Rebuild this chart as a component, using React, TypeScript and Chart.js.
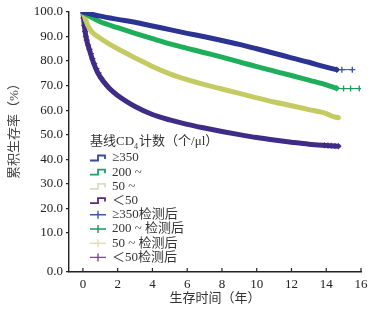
import React, { useEffect, useRef } from "react";
import { Chart, registerables } from "chart.js";
Chart.register(...registerables);

// ---- data ----
const groupLabels = ["≥350", "200 ~", "50 ~", "＜50"];
const afterLabels = ["≥350检测后", "200 ~ 检测后", "50 ~ 检测后", "＜50检测后"];

const tBlue = [0, 0.5, 1, 2, 3, 4, 5, 6, 7, 8, 9, 10, 11, 12, 13, 14, 14.6];
const sBlue = [100, 99.1, 98.3, 97.0, 95.8, 94.3, 92.8, 91.3, 89.9, 88.4, 86.8, 85.0, 83.2, 81.3, 79.5, 77.5, 76.5];

const tGreen = [0, 0.5, 1, 2, 3, 4, 5, 6, 7, 8, 9, 10, 11, 12, 13, 14, 14.6];
const sGreen = [100, 97.8, 96.0, 93.6, 91.3, 89.1, 87.0, 85.2, 83.4, 81.6, 79.7, 77.7, 75.9, 74.1, 72.2, 70.3, 68.9];

const tYellow = [0, 0.25, 0.5, 1, 1.5, 2, 3, 4, 5, 6, 7, 8, 9, 10, 11, 12, 13, 14, 14.3, 14.7];
const sYellow = [100, 95.0, 92.0, 89.3, 87.0, 85.0, 81.3, 77.8, 74.8, 72.4, 70.4, 68.6, 66.8, 65.0, 63.3, 61.8, 60.2, 58.6, 57.6, 56.9];

const tPurple = [0, 0.1, 0.2, 0.4, 0.6, 0.8, 1, 1.5, 2, 2.5, 3, 4, 5, 6, 7, 8, 9, 10, 11, 12, 13, 14, 14.7];
const sPurple = [100, 93.5, 89.0, 84.0, 79.5, 76.0, 73.5, 69.0, 66.0, 63.6, 61.5, 58.2, 56.0, 54.2, 52.7, 51.3, 50.0, 48.8, 47.8, 46.9, 46.1, 45.6, 45.3];

// censored marks ("检测后")
const cBlueT = [14.6, 14.9, 15.5];
const cBlueS = [76.5, 76.5, 76.5];
const cGreenT = [14.6, 15.0, 15.4, 15.9];
const cGreenS = [68.9, 68.8, 68.8, 68.8];
const cYellowT = [0.05, 0.15];
const cYellowS = [98.0, 96.5];
const cPurpleT = [0.03, 0.08, 0.12, 0.17, 0.22, 0.3, 0.38, 0.46, 0.55, 0.65, 0.78, 0.9, 1.05, 1.2, 1.4, 13.9, 14.1, 14.3, 14.5, 14.7];
const cPurpleS = [97.5, 94.5, 92.0, 90.0, 88.5, 86.5, 84.8, 83.0, 81.0, 79.0, 77.0, 75.2, 73.0, 71.5, 69.8, 45.7, 45.6, 45.5, 45.4, 45.3];

const xTicks = [0, 2, 4, 6, 8, 10, 12, 14, 16];
const yTicks = [-6, 10, 20, 30, 40, 50, 60, 70, 80, 90, 100];

const lineColors = ["#2b3492", "#1fae5a", "#c3cb62", "#3f2c86"];
const markColors = ["#3a4fa8", "#1a9a60", "#c9cf86", "#6f3a8f"];
const markLine = [true, true, false, false];
const legendLineColors = ["#3a4a98", "#1e9e6a", "#d8dcc4", "#5a2a7a"];
const legendCrossColors = ["#3e5ab0", "#1a9a5a", "#e0e0b8", "#7a4a8a"];

const FONT = "'Liberation Serif', 'Noto Sans CJK SC', serif";

const toPts = (t: number[], s: number[]) => t.map((x, i) => ({ x, y: s[i] }));

const decorPlugin = {
  id: "decor",
  afterDraw(chart: any) {
    const ctx = chart.ctx;
    const ca = chart.chartArea;
    const xs = chart.scales.x;
    ctx.save();
    // inward x ticks
    ctx.strokeStyle = "#222";
    ctx.lineWidth = 1.2;
    xTicks.forEach((v) => {
      const px = xs.getPixelForValue(v);
      ctx.beginPath();
      ctx.moveTo(px, ca.bottom);
      ctx.lineTo(px, ca.bottom - 4);
      ctx.stroke();
    });
    // y title
    ctx.save();
    ctx.translate(15, ca.top + 116);
    ctx.rotate(-Math.PI / 2);
    ctx.fillStyle = "#444";
    ctx.font = `13px ${FONT}`;
    ctx.textAlign = "center";
    ctx.textBaseline = "middle";
    ctx.fillText("累积生存率（%）", 0, 0);
    ctx.restore();
    // legend
    const lx = ca.left + 21;
    const ty = ca.top + 130;
    ctx.fillStyle = "#333";
    ctx.textBaseline = "middle";
    ctx.textAlign = "left";
    ctx.font = `13px ${FONT}`;
    let x = lx;
    const p1 = "基线CD";
    ctx.fillText(p1, x, ty);
    x += ctx.measureText(p1).width;
    ctx.font = `8px ${FONT}`;
    ctx.fillText("4", x, ty + 5);
    x += ctx.measureText("4").width + 1;
    ctx.font = `13px ${FONT}`;
    ctx.fillText("计数（个/μl）", x, ty);

    const step = 14.2;
    const y0 = ty + 16;
    groupLabels.forEach((lab, i) => {
      const y = y0 + i * step;
      ctx.strokeStyle = legendLineColors[i];
      ctx.lineWidth = 1.8;
      ctx.beginPath();
      ctx.moveTo(lx, y + 2.5);
      ctx.lineTo(lx + 8, y + 2.5);
      ctx.lineTo(lx + 8, y - 2.5);
      ctx.lineTo(lx + 15, y - 2.5);
      ctx.lineTo(lx + 15, y + 1);
      ctx.stroke();
      ctx.fillStyle = "#333";
      ctx.fillText(lab, lx + 22, y);
    });
    afterLabels.forEach((lab, i) => {
      const y = y0 + (i + 4) * step;
      ctx.strokeStyle = legendCrossColors[i];
      ctx.lineWidth = 1.4;
      ctx.beginPath();
      ctx.moveTo(lx, y);
      ctx.lineTo(lx + 16, y);
      ctx.moveTo(lx + 8, y - 4);
      ctx.lineTo(lx + 8, y + 4);
      ctx.stroke();
      ctx.fillStyle = "#333";
      ctx.fillText(lab, lx + 22, y);
    });
    ctx.restore();
  },
};

export default function App() {
  const ref = useRef<HTMLCanvasElement | null>(null);
  useEffect(() => {
    if (!ref.current) return;
    const lines = [
      toPts(tBlue, sBlue),
      toPts(tGreen, sGreen),
      toPts(tYellow, sYellow),
      toPts(tPurple, sPurple),
    ];
    const marks = [
      toPts(cBlueT, cBlueS),
      toPts(cGreenT, cGreenS),
      toPts(cYellowT, cYellowS),
      toPts(cPurpleT, cPurpleS),
    ];
    const datasets: any[] = [];
    lines.forEach((d, i) => {
      datasets.push({
        label: groupLabels[i],
        data: d,
        borderColor: lineColors[i],
        backgroundColor: lineColors[i],
        borderWidth: 5,
        pointRadius: 0,
        cubicInterpolationMode: "monotone",
        borderCapStyle: "round",
        fill: false,
      });
    });
    marks.forEach((d, i) => {
      datasets.push({
        label: afterLabels[i],
        data: d,
        showLine: markLine[i],
        borderWidth: 1,
        pointStyle: "cross",
        pointRadius: 3,
        pointBorderWidth: 1.3,
        borderColor: markColors[i],
        backgroundColor: markColors[i],
      });
    });
    const chart = new Chart(ref.current, {
      type: "line",
      data: { datasets },
      plugins: [decorPlugin],
      options: {
        animation: false,
        responsive: false,
        layout: { padding: { top: 12, right: 17, left: 0, bottom: 0 } },
        plugins: { legend: { display: false }, tooltip: { enabled: false } },
        scales: {
          x: {
            type: "linear",
            min: -0.8,
            max: 16,
            afterBuildTicks: (s: any) => {
              s.ticks = xTicks.map((v) => ({ value: v }));
            },
            afterFit: (s: any) => {
              s.height = 38;
            },
            grid: { display: false, drawTicks: false },
            border: { display: true, color: "#222", width: 1.4 },
            ticks: {
              padding: 5,
              color: "#222",
              font: { family: FONT, size: 13 },
              callback: (v: any) => String(v),
            },
            title: {
              display: true,
              text: "生存时间（年）",
              color: "#333",
              font: { family: FONT, size: 13 },
              padding: { top: 2, bottom: 4 },
            },
          },
          y: {
            type: "linear",
            min: -6,
            max: 100,
            afterBuildTicks: (s: any) => {
              s.ticks = yTicks.map((v) => ({ value: v }));
            },
            afterFit: (s: any) => {
              s.width = 69;
            },
            grid: { drawOnChartArea: false, drawTicks: true, tickLength: 3, color: "#222", lineWidth: 1.2 },
            border: { display: true, color: "#222", width: 1.4 },
            ticks: {
              padding: 3,
              color: "#222",
              font: { family: FONT, size: 13 },
              callback: (v: any) => (v < 0 ? "0.0" : Number(v).toFixed(1)),
            },
            title: { display: false },
          },
        },
      },
    });
    return () => chart.destroy();
  }, []);
  return (
    <div style={{ position: "absolute", left: 0, top: 0, width: 378, height: 310, background: "#fff" }}>
      <canvas ref={ref} width={378} height={310} />
    </div>
  );
}
